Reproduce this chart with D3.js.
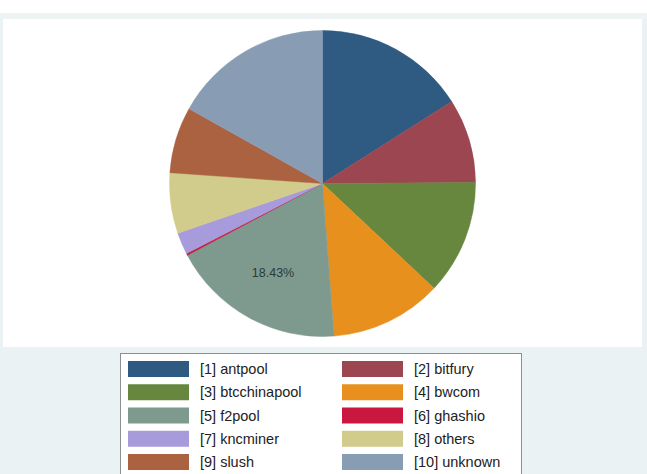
<!DOCTYPE html>
<html>
<head>
<meta charset="utf-8">
<script src="https://cdn.jsdelivr.net/npm/d3@7"></script>
<style>
  html, body { margin: 0; padding: 0; background: #eaf2f3; }
  svg { display: block; }
</style>
</head>
<body>
<div id="chart"></div>
<script>
// mining pool shares (percent)
const pools = ['antpool', 'bitfury', 'btcchinapool', 'bwcom', 'f2pool', 'ghashio', 'kncminer', 'others', 'slush', 'unknown'];
const shares = [16.0, 8.9, 12.1, 11.8, 18.43, 0.2, 2.3, 6.4, 7.0, 16.87];
const labelled = ['f2pool'];

const palette = ['#2f5a81', '#9b4651', '#67873f', '#e8901d', '#7e9a8e', '#c9173f', '#a79bdb', '#d2cc8c', '#ab6240', '#889db3'];

const W = 647, H = 474;
const svg = d3.select('#chart').append('svg')
    .attr('width', W)
    .attr('height', H);

// outer frame
svg.append('rect').attr('width', W).attr('height', 13).attr('fill', '#ffffff');
svg.append('rect').attr('y', 13).attr('width', W).attr('height', 6).attr('fill', '#eef3f3');
svg.append('rect').attr('x', 3).attr('y', 19).attr('width', 639).attr('height', 328).attr('fill', '#ffffff');

const data = pools.map((p, i) => ({ name: p, value: shares[i], color: palette[i], idx: i + 1 }));
const total = d3.sum(shares);

const cx = 322.5, cy = 183.5, radius = 153;
const pie = d3.pie().value(d => d.value).sort(null);
const arc = d3.arc().innerRadius(0).outerRadius(radius);
const labelArc = d3.arc().innerRadius(radius * 0.67).outerRadius(radius * 0.67);

const g = svg.append('g').attr('transform', `translate(${cx},${cy})`);
const arcs = pie(data);

g.selectAll('path.slice')
    .data(arcs)
    .join('path')
    .attr('class', 'slice')
    .attr('fill', d => d.data.color)
    .attr('stroke', d => d.data.color)
    .attr('stroke-width', 0.5)
    .attr('d', arc);

g.selectAll('text.plabel')
    .data(arcs.filter(d => labelled.includes(d.data.name)))
    .join('text')
    .attr('class', 'plabel')
    .attr('transform', d => `translate(${labelArc.centroid(d)})`)
    .attr('text-anchor', 'middle')
    .attr('dominant-baseline', 'middle')
    .style('font-family', 'Liberation Sans, Arial, sans-serif')
    .style('font-size', '12.5px')
    .style('fill', '#2b3a3a')
    .text(d => (d.data.value / total * 100).toFixed(2) + '%');

// legend
const legend = svg.append('g');
legend.append('rect')
    .attr('x', 120.5).attr('y', 353.5)
    .attr('width', 401).attr('height', 130)
    .attr('fill', '#ffffff')
    .attr('stroke', '#8a8f92')
    .attr('stroke-width', 1);

const col = d3.scaleOrdinal().domain([0, 1]).range([128, 342]);
const row = d3.scaleLinear().domain([0, 4]).range([361, 454]);

const items = legend.selectAll('g.item')
    .data(data)
    .join('g')
    .attr('class', 'item')
    .attr('transform', (d, i) => `translate(${col(i % 2)},${row(Math.floor(i / 2))})`);

items.append('rect')
    .attr('width', 61)
    .attr('height', 16)
    .attr('fill', d => d.color);

items.append('text')
    .attr('x', 72)
    .attr('y', 8)
    .attr('dominant-baseline', 'central')
    .style('font-family', 'Liberation Sans, Arial, sans-serif')
    .style('font-size', '14.5px')
    .style('fill', '#222')
    .text(d => `[${d.idx}] ${d.name}`);
</script>
</body>
</html>
